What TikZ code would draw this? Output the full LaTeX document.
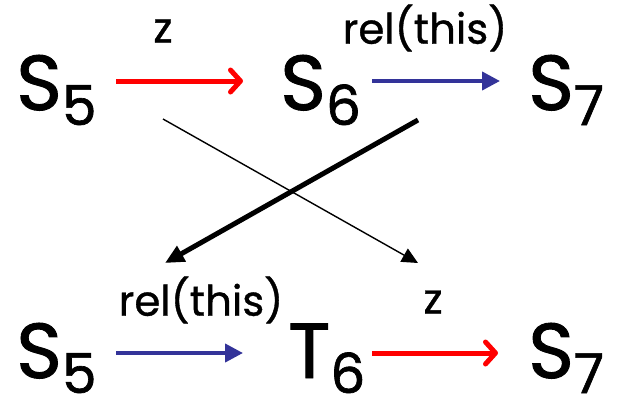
\documentclass[tikz,border=0pt]{standalone}
\usepackage{fontspec}
\setmainfont{Poppins}[FakeBold=1.2]
\newfontfamily\labfont{Poppins}[FakeBold=0.8]
\usetikzlibrary{arrows.meta}
\newcommand\stname[2]{#1\raisebox{-15pt}{\fontsize{55}{55}\selectfont #2}}
\definecolor{arrred}{RGB}{255,0,0}
\definecolor{arrblue}{RGB}{51,51,153}
\tikzset{
  state/.style={inner sep=0pt, anchor=base west, font=\fontsize{78}{78}\selectfont},
  lab/.style={inner sep=0pt, font=\labfont\fontsize{42}{42}\selectfont},
  redarr/.style={draw=arrred, line width=5pt, -{Straight Barb[length=10pt,width=22pt,line cap=round,line join=round]}},
  bluearr/.style={draw=arrblue, line width=4pt, -{Triangle[length=18pt,width=18pt]}},
  thinarr/.style={draw=black, line width=1.4pt, -{Triangle[length=16pt,width=15pt]}},
  thickarr/.style={draw=black, line width=5pt, -{Triangle[length=19pt,width=17pt]}}
}
\begin{document}
\begin{tikzpicture}[x=1pt,y=-1pt]
\useasboundingbox[fill=white] (0,0) rectangle (617,402);
% top row
\node[state] (s5a) at (16,110) {\stname{S}{5}};
\node[state] (s6a) at (280,110) {\stname{S}{6}};
\node[state] (s7a) at (528,110) {\stname{S}{7}};
% bottom row
\node[state] (s5b) at (16,378) {\stname{S}{5}};
\node[state] (t6b) at (288,378) {\stname{T}{6}};
\node[state] (s7b) at (528,378) {\stname{S}{7}};
% labels
\node[lab] (z1) at (163,31) {z};
\node[lab] (r1) at (425,28) {rel(this)};
\node[lab] (r2) at (201,300) {rel(this)};
\node[lab] (z2) at (433,302) {z};
% horizontal arrows
\draw[redarr] ([shift={(100,-29)}]s5a.base west) -- ([shift={(-37,-29)}]s6a.base west);
\draw[bluearr] ([shift={(92,-29)}]s6a.base west) -- ([shift={(-28,-29)}]s7a.base west);
\draw[bluearr] ([shift={(100,-25)}]s5b.base west) -- ([shift={(-45,-25)}]t6b.base west);
\draw[redarr] ([shift={(84,-25)}]t6b.base west) -- ([shift={(-30,-25)}]s7b.base west);
% crossing arrows
\draw[thinarr] ([shift={(147,9)}]s5a.base west) -- ([shift={(-110,-115)}]s7b.base west);
\draw[thickarr] ([shift={(138,10)}]s6a.base west) -- ([shift={(149,-115)}]s5b.base west);
\end{tikzpicture}
\end{document}
